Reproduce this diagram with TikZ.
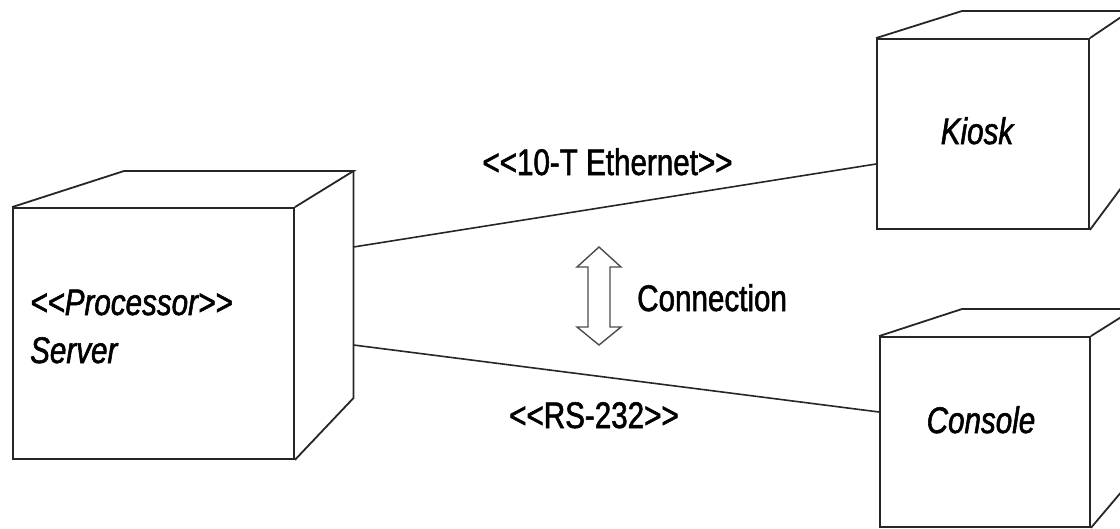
\documentclass[tikz,border=0pt]{standalone}
\usepackage{fontspec}
\setmainfont{Liberation Sans}[FakeStretch=0.8,FakeBold=1.5]
\usetikzlibrary{calc}
% angle brackets kept apart so they are not joined into guillemets
\newcommand{\dlt}{<\kern0pt<}
\newcommand{\dgt}{>\kern0pt>}
\begin{document}
\begin{tikzpicture}[x=1pt,y=-1pt,
  edge/.style={draw=black!85,line width=1.8pt,line join=miter},
  facebox/.style={edge,rectangle,inner sep=0pt},
  label/.style={inner sep=0pt,font=\fontsize{37}{44}\selectfont},
  link/.style={draw=black!85,line width=1.6pt},
  hollow/.style={draw=black!70,line width=1.4pt,fill=white,line join=miter}]
\useasboundingbox (0,0) rectangle (1120,528);

% ---- Server node (front face + depth) ----
\node[facebox,minimum width=281pt,minimum height=251pt] (server) at (153.5,333.5) {};
\coordinate (srvTL) at (124,171);
\coordinate (srvTR) at (353.5,171);
\coordinate (srvBR) at (353.5,398);
\draw[edge] (server.north west) -- (srvTL) -- (srvTR) -- (server.north east);
\draw[edge] (srvTR) -- (srvBR) -- (server.south east);

% ---- Kiosk node ----
\node[facebox,minimum width=212pt,minimum height=190pt] (kiosk) at (983,134) {};
\coordinate (kioTL) at (962,11);
\coordinate (kioTR) at (1130,11);
\coordinate (kioBR) at (1130,176);
\draw[edge] (kiosk.north west) -- (kioTL) -- (kioTR) -- (kiosk.north east);
\draw[edge] (kioTR) -- (kioBR) -- (kiosk.south east);

% ---- Console node ----
\node[facebox,minimum width=210pt,minimum height=190pt] (console) at (985,432) {};
\coordinate (conTL) at (962,309);
\coordinate (conTR) at (1134,309);
\coordinate (conBR) at (1134,477);
\draw[edge] (console.north west) -- (conTL) -- (conTR) -- (console.north east);
\draw[edge] (conTR) -- (conBR) -- (console.south east);

% ---- node labels ----
\node[label,anchor=base west] (stereo) at (30,315) {\itshape \dlt Processor\dgt};
\node[label,anchor=base west] (srvname) at (30,363) {\itshape Server};
\node[label,anchor=base] (kioname) at (977,144) {\itshape Kiosk};
\node[label,anchor=base] (conname) at (981,433) {\itshape Console};

% ---- communication links ----
\coordinate (srvE1) at (353.5,247);
\coordinate (srvE2) at (353.5,345);
\draw[link] (srvE1) -- ([yshift=-30pt]kiosk.west);
\draw[link] (srvE2) -- ([yshift=20pt]console.west);
\node[label,anchor=base] (ethlbl) at (607.5,175) {\dlt 10-T Ethernet\dgt};
\node[label,anchor=base] (rslbl) at (594,428) {\dlt RS-232\dgt};

% ---- legend: hollow double arrow ----
\draw[hollow] (599,247) -- (621,267) -- (610,267) -- (610,327) -- (621,327)
  -- (599,345) -- (577,327) -- (588,327) -- (588,267) -- (577,267) -- cycle;
\node[label,anchor=base west] (connlbl) at (637,311) {Connection};
\end{tikzpicture}
\end{document}
